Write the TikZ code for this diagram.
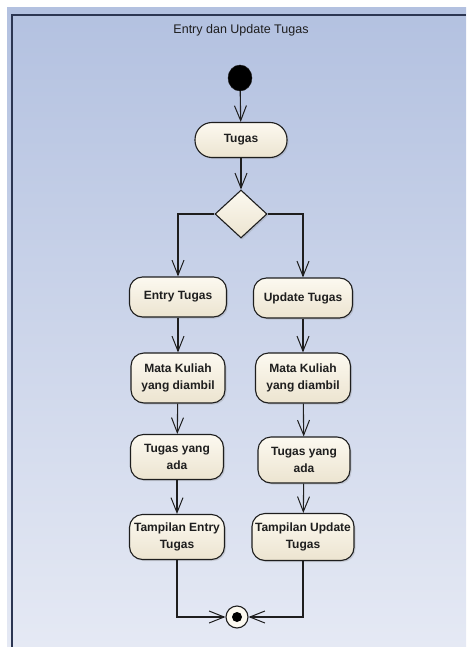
\documentclass[tikz,border=0pt]{standalone}
\usepackage{fontspec}
\setmainfont{Liberation Sans}
\usetikzlibrary{arrows.meta,shapes.geometric,shadows}
\definecolor{bgtop}{RGB}{179,193,224}
\definecolor{bgbot}{RGB}{229,233,244}
\definecolor{framec}{RGB}{44,54,82}
\definecolor{creamA}{RGB}{252,249,240}
\definecolor{creamB}{RGB}{236,228,208}
\definecolor{inkc}{RGB}{30,30,30}
\tikzset{
  flow/.style={draw=inkc, line width=1.1pt, -{Straight Barb[length=15pt,width=12pt,line width=1pt]}},
  action/.style={draw=inkc, line width=1.1pt, rounded corners=13pt,
    top color=creamA, bottom color=creamB, align=center, text=inkc,
    font=\fontsize{12}{17.5}\selectfont\bfseries, inner sep=1pt,
    drop shadow={shadow xshift=1.5pt, shadow yshift=-1.5pt, opacity=0.25}},
  decision/.style={diamond, draw=inkc, line width=1.1pt, top color=creamA, bottom color=creamB,
    minimum width=52pt, minimum height=48pt, inner sep=0pt,
    drop shadow={shadow xshift=1.5pt, shadow yshift=-1.5pt, opacity=0.25}},
}
\begin{document}
\begin{tikzpicture}[x=1pt,y=-1pt]
  % canvas and frame
  \useasboundingbox (0,0) rectangle (466,647);
  \fill[white] (0,0) rectangle (466,647);
  \shade[top color=bgtop, bottom color=bgbot] (7,8) rectangle (466,647);
  \draw[framec, line width=2pt] (12,647) -- (12,15) -- (466,15);
  \node[font=\fontsize{12.5}{14}\selectfont, text=inkc] (title) at (241,30) {Entry dan Update Tugas};

  % start and top of the flow
  \node[ellipse, fill=black, draw=inkc, minimum width=24pt, minimum height=26pt, inner sep=0pt] (start) at (240,78) {};
  \node[action, minimum width=92pt, minimum height=35pt, rounded corners=17pt] (tugas) at (241,140) {Tugas};
  \node[decision] (dec) at (241,214) {};

  % left branch
  \node[action, minimum width=97pt, minimum height=40pt] (entry) at (178,297) {Entry Tugas};
  \node[action, minimum width=94pt, minimum height=50pt] (mk1) at (178,378) {Mata Kuliah\\yang diambil};
  \node[action, minimum width=93pt, minimum height=45pt] (ta1) at (177,457) {Tugas yang\\ada};
  \node[action, minimum width=95pt, minimum height=45pt] (tp1) at (177,537) {Tampilan Entry\\Tugas};

  % right branch
  \node[action, minimum width=99pt, minimum height=40pt] (update) at (303,298) {Update Tugas};
  \node[action, minimum width=95pt, minimum height=50pt] (mk2) at (303,378) {Mata Kuliah\\yang diambil};
  \node[action, minimum width=92pt, minimum height=46pt] (ta2) at (304,460) {Tugas yang\\ada};
  \node[action, minimum width=102pt, minimum height=47pt] (tp2) at (303,537) {Tampilan Update\\Tugas};

  % final node
  \node[circle, draw=inkc, line width=1.1pt, fill=creamA, minimum size=22pt, inner sep=0pt] (final) at (237,617) {};
  \fill[black] (final.center) circle (5pt);

  % connectors
  \draw[flow] (start) -- (tugas);
  \draw[flow] (tugas) -- (dec);
  \draw[flow] (dec.west) -| (entry.north);
  \draw[flow] (dec.east) -| (update.north);
  \draw[flow] (entry) -- (mk1);
  \draw[flow] (mk1) -- (ta1);
  \draw[flow] (ta1) -- (tp1);
  \draw[flow] (update) -- (mk2);
  \draw[flow] (mk2) -- (ta2);
  \draw[flow] (ta2) -- (tp2);
  \draw[flow] (tp1.south) |- (final.west);
  \draw[flow] (tp2.south) |- (final.east);
\end{tikzpicture}
\end{document}
